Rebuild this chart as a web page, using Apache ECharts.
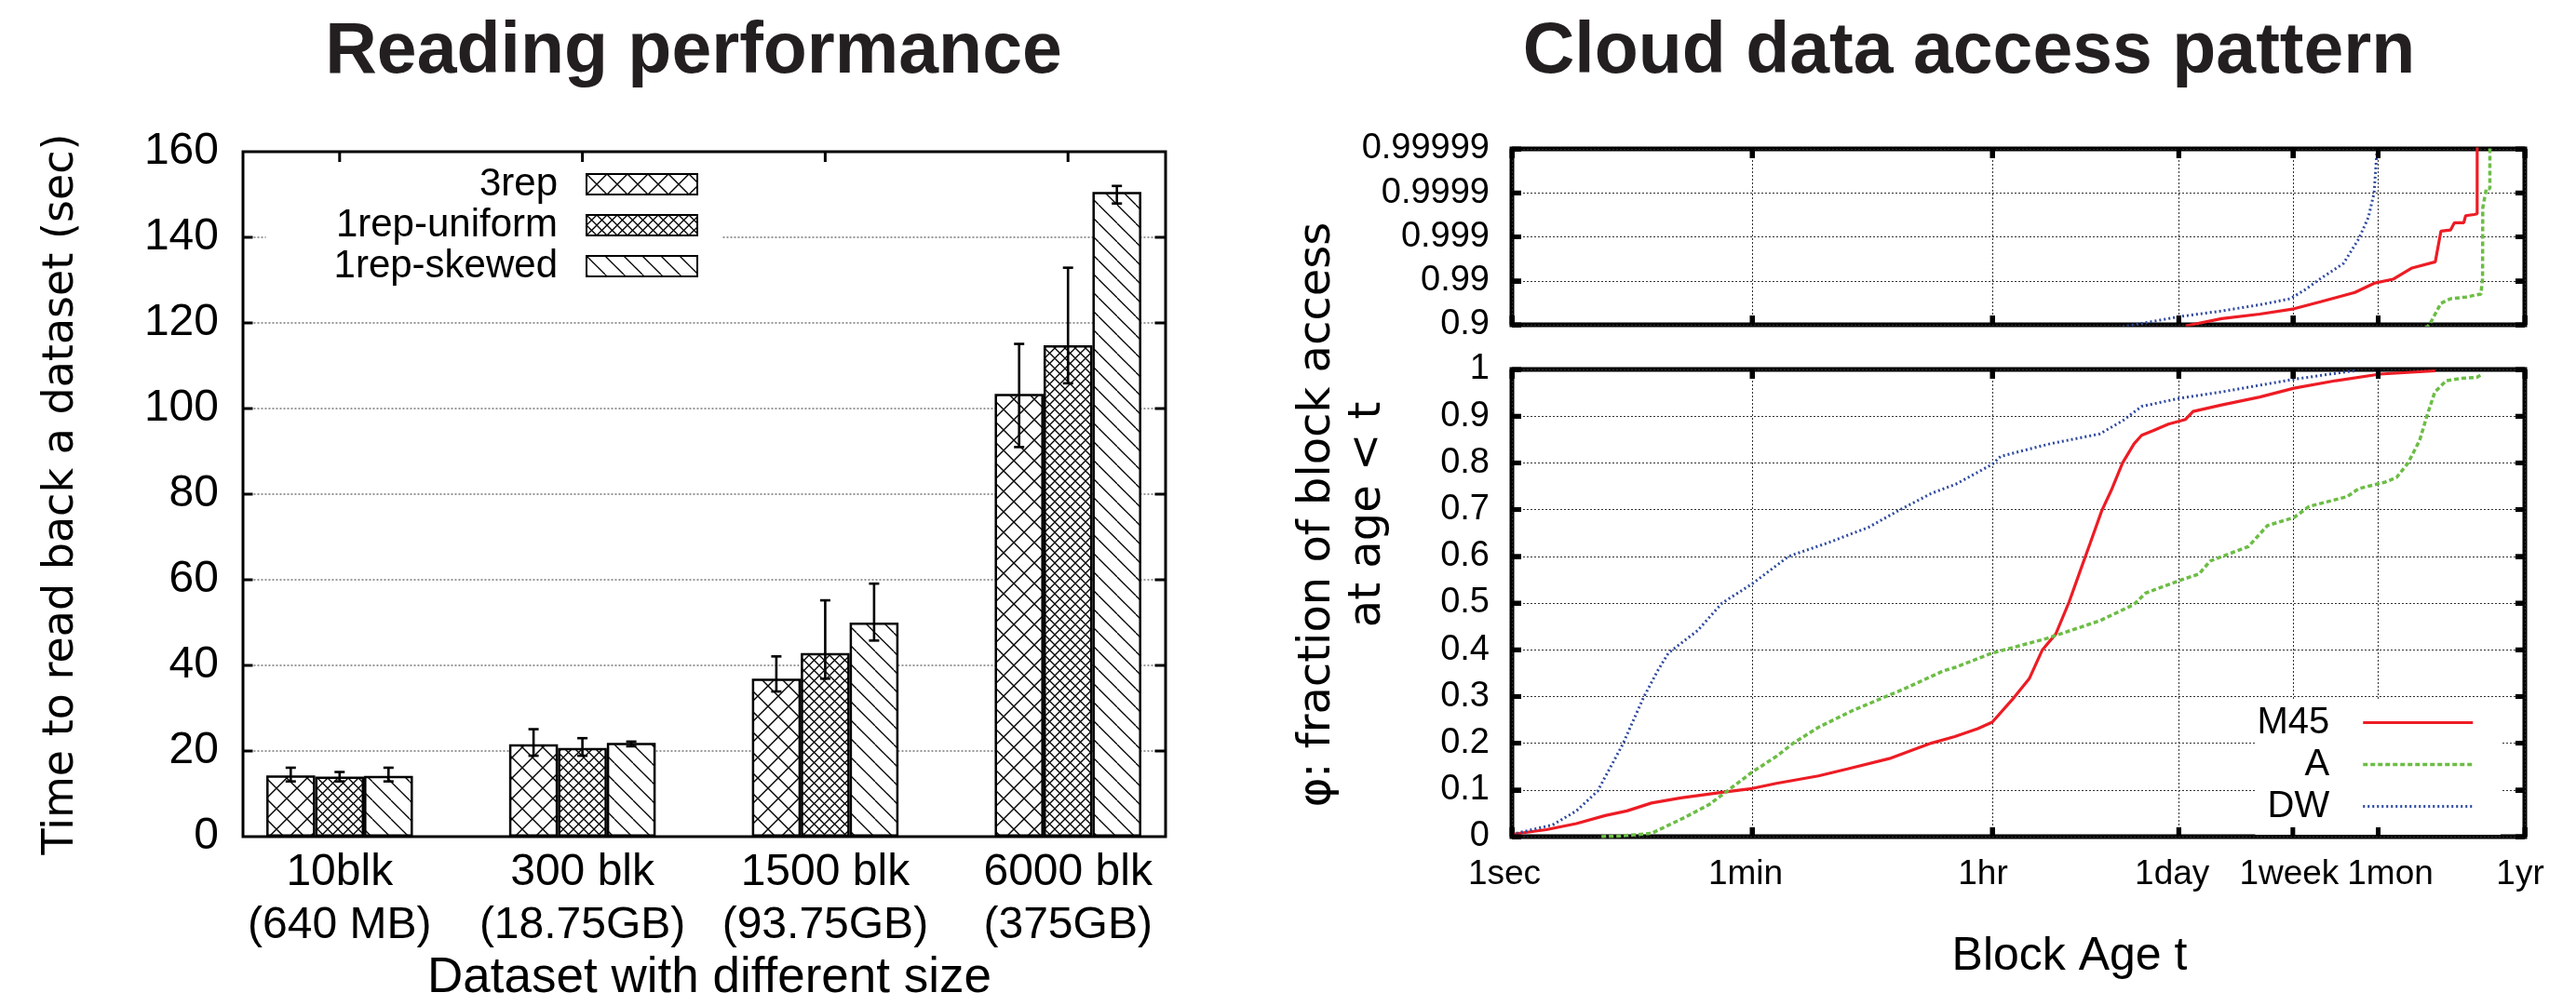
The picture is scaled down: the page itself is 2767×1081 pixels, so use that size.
<!DOCTYPE html>
<html><head><meta charset="utf-8">
<script src="https://cdn.jsdelivr.net/npm/echarts@6/dist/echarts.min.js"></script>
<style>html,body{margin:0;padding:0;background:#fff;overflow:hidden}
#left{position:absolute;left:0;top:0;width:1380px;height:1081px}
#right{position:absolute;left:1380px;top:0;width:1387px;height:1081px}</style>
</head><body><div id="left"></div><div id="right"></div>
<script>
// ---------------- Left chart: Reading performance ----------------
const categories = ['10blk', '300 blk', '1500 blk', '6000 blk'];
const sizes = ['(640 MB)', '(18.75GB)', '(93.75GB)', '(375GB)'];
const rep3   = [14.3, 21.6, 36.9, 103.4];
const rep3Lo = [12.9, 18.9, 33.9, 91.0];
const rep3Hi = [16.1, 25.1, 42.1, 115.1];
const uni    = [14.0, 20.7, 42.9, 114.8];
const uniLo  = [12.9, 18.9, 36.9, 105.9];
const uniHi  = [15.1, 23.0, 55.2, 132.9];
const skew   = [14.2, 21.9, 50.0, 150.6];
const skewLo = [12.9, 21.1, 45.8, 147.9];
const skewHi = [16.1, 22.2, 59.1, 152.0];
const yTicks = [0, 20, 40, 60, 80, 100, 120, 140, 160];

// ---------------- Right chart: Cloud data access pattern ----------------
const tickSec = [1, 60, 3600, 86400, 604800, 2592000, 31536000];
const tickLbl = ['1sec', '1min', '1hr', '1day', '1week', '1mon', '1yr'];
const tailTicks = ['0.9', '0.99', '0.999', '0.9999', '0.99999'];
const tailVals  = [0.1, 0.01, 0.001, 0.0001, 0.00001];   // 1 - phi at each tail tick
const phiTicks  = [0, 0.1, 0.2, 0.3, 0.4, 0.5, 0.6, 0.7, 0.8, 0.9, 1];

// [age in seconds, fraction phi] (lower, linear panel)
const m45 = [[1,.005],[1.8,.015],[3,.028],[4.9,.045],[7.1,.055],[10.8,.072],[17.8,.083],[36,.095],[60,.103],[91,.114],[186,.13],[305,.145],[622,.167],[1270,.2],[1900,.214],[2810,.231],[3600,.245],[5050,.293],[6760,.338],[8470,.4],[10640,.434],[13370,.503],[16260,.572],[19100,.628],[23230,.697],[27350,.741],[33190,.8],[40360,.841],[45920,.859],[55850,.869],[72440,.883],[97050,.893],[110400,.91],[179900,.924],[344400,.941],[616600,.96],[1259000,.976],[2667000,.99],[6855000,.997]];
const aSer = [[4.6,0],[6.1,.001],[10.8,.007],[19,.041],[29,.069],[39,.097],[60,.138],[91,.172],[121,.2],[186,.234],[328,.269],[622,.303],[771,.314],[1570,.355],[1900,.362],[3600,.393],[9060,.424],[22490,.462],[40360,.497],[48980,.521],[86900,.548],[121900,.562],[147900,.59],[283800,.621],[392600,.666],[616600,.683],[799800,.707],[1531000,.728],[1862000,.745],[2931000,.759],[3548000,.769],[4315000,.8],[5248000,.848],[5984000,.903],[6808000,.952],[8279000,.976],[10720000,.981],[13900000,.983],[15350000,.99]];
const dw = [[1,.005],[2,.025],[3,.055],[4.3,.097],[6.6,.197],[9.4,.297],[12,.355],[14.4,.393],[23.7,.441],[36,.5],[60,.541],[112,.6],[214,.628],[436,.662],[718,.697],[1260,.734],[1950,.755],[3600,.797],[4150,.814],[9660,.841],[22490,.862],[33190,.89],[45920,.921],[86900,.938],[179900,.952],[616600,.979],[1349000,.993],[1800000,.998]];

// [age in seconds, fraction phi] (upper, tail panel)
const m45Tail = [[97050,.893],[106900,.9],[179900,.9276],[344400,.943],[616600,.9567],[970000,.97],[1742000,.9816],[2410000,.9886],[3334000,.9908],[4613000,.9949],[6855000,.9963],[7551000,.99926],[8892000,.9993],[9484000,.99952],[11140000,.99952],[11510000,.99967],[13300000,.99969],[14000000,.9997],[14010000,.999995]];
const aTail = [[5248000,.848],[6209000,.9],[7551000,.9676],[8892000,.9745],[11510000,.9766],[14930000,.98],[15350000,.9911],[15400000,.99978],[16370000,.99992],[17380000,.99992],[17400000,.999995]];
const dwTail = [[33190,.89],[40360,.9],[88100,.935],[179900,.9516],[344400,.965],[579400,.9745],[751600,.9843],[970000,.9911],[1180000,.994],[1435000,.996],[1862000,.9989],[2193000,.99964],[2415000,.9999],[2582000,.999995]];

// ---------------- styles ----------------
const FONT = '"Liberation Sans", Arial, sans-serif';
const FONT_Y = '"DejaVu Sans", Verdana, sans-serif';
const RED = '#ed1c24', GREEN = '#6cbd45', BLUE = '#2e49a0';
const X_LABEL_SHIFT = [-8, -7, -10, -7, -4, 13, -5];   // horizontal nudge (px) of the age labels
const FRAME_INSET = 0.1;   // frame sits 0.1 category band inside the bar grid on each side

function pattern(size, dirs, lw) {
  const c = document.createElement('canvas');
  c.width = size; c.height = size;
  const g = c.getContext('2d');
  g.fillStyle = '#fff'; g.fillRect(0, 0, size, size);
  g.strokeStyle = '#000'; g.lineWidth = lw;
  dirs.forEach(d => {
    for (let k = -1; k <= 1; k++) {
      g.beginPath();
      if (d === '\\') { g.moveTo(k * size, 0); g.lineTo(k * size + size, size); }
      else { g.moveTo(k * size, size); g.lineTo(k * size + size, 0); }
      g.stroke();
    }
  });
  return { image: c, repeat: 'repeat' };
}
function nearestIdx(list, v) {
  let best = 0;
  list.forEach((s, i) => { if (Math.abs(Math.log(s) - Math.log(v)) < Math.abs(Math.log(list[best]) - Math.log(v))) best = i; });
  return best;
}
const dotted = () => ({ show: true, lineStyle: { type: [2, 2], color: '#333', width: 1 } });
const tickR = () => ({ show: true, inside: true, length: 10, lineStyle: { color: '#000', width: 5 } });
const noLine = () => ({ show: false, onZero: false });

// custom series drawing tick marks on one edge of a cartesian grid, placed by the axis scales
function edgeTicks(xi, yi, vals, side, ref, len, w, z) {
  const vertical = side === 'left' || side === 'right';
  return {
    type: 'custom', name: 'ticks-' + side, xAxisIndex: xi, yAxisIndex: yi, silent: true, z: z,
    data: vals.map(v => vertical ? [ref, v] : [v, ref]),
    renderItem: (params, api) => {
      const r = params.coordSys;
      const p = api.coord([api.value(0), api.value(1)]);
      let shape;
      if (side === 'left') shape = { x1: r.x, y1: p[1], x2: r.x + len, y2: p[1] };
      else if (side === 'right') shape = { x1: r.x + r.width - len, y1: p[1], x2: r.x + r.width, y2: p[1] };
      else if (side === 'top') shape = { x1: p[0], y1: r.y, x2: p[0], y2: r.y + len };
      else shape = { x1: p[0], y1: r.y + r.height - len, x2: p[0], y2: r.y + r.height };
      return { type: 'line', shape: shape, style: { stroke: '#000', lineWidth: w } };
    }
  };
}

// ================= LEFT INSTANCE =================
const BAR_W = 52.5, CAP = 5.5;
const barDefs = [
  { name: '3rep', vals: rep3, lo: rep3Lo, hi: rep3Hi, color: pattern(22, ['\\', '/'], 1.4) },
  { name: '1rep-uniform', vals: uni, lo: uniLo, hi: uniHi, color: pattern(11, ['\\', '/'], 1.3) },
  { name: '1rep-skewed', vals: skew, lo: skewLo, hi: skewHi, color: pattern(20, ['\\'], 1.3) }
];
const leftSeries = [];
// gridlines and frame ticks (drawn from the value axis of the bar grid)
['grid', 'tickL', 'tickR'].forEach(part => {
  leftSeries.push({
    type: 'custom', name: 'frame-' + part, xAxisIndex: 0, yAxisIndex: 0, silent: true,
    z: part === 'grid' ? 1 : 6,
    data: yTicks.slice(1, -1).map(v => [0, v]),
    renderItem: (params, api) => {
      const r = params.coordSys;
      const inset = api.size([1, 0])[0] * FRAME_INSET;
      const xL = r.x + inset, xR = r.x + r.width - inset;
      const y = api.coord([0, api.value(1)])[1];
      if (part === 'grid') return { type: 'line', shape: { x1: xL, y1: y, x2: xR, y2: y }, style: { stroke: '#333', lineWidth: 1, lineDash: [2, 2] } };
      if (part === 'tickL') return { type: 'line', shape: { x1: xL, y1: y, x2: xL + 11, y2: y }, style: { stroke: '#000', lineWidth: 3 } };
      return { type: 'line', shape: { x1: xR - 11, y1: y, x2: xR, y2: y }, style: { stroke: '#000', lineWidth: 3 } };
    }
  });
});
leftSeries.push({
  type: 'custom', name: 'frame-tickTop', xAxisIndex: 0, yAxisIndex: 0, silent: true, z: 6,
  data: categories.map((c, i) => [i, yTicks[yTicks.length - 1]]),
  renderItem: (params, api) => {
    const p = api.coord([api.value(0), api.value(1)]);
    return { type: 'line', shape: { x1: p[0], y1: p[1], x2: p[0], y2: p[1] + 11 }, style: { stroke: '#000', lineWidth: 3 } };
  }
});
barDefs.forEach(d => {
  leftSeries.push({
    type: 'bar', name: d.name, xAxisIndex: 0, yAxisIndex: 0, data: d.vals,
    barWidth: BAR_W, barGap: '0%',
    itemStyle: { color: d.color, borderColor: '#000', borderWidth: 2.5 }, z: 3
  });
});
// error bars: one single-line custom series per part (stem / upper cap / lower cap)
barDefs.forEach((d, k) => {
  const off = (k - 1) * BAR_W;
  ['stem', 'top', 'bot'].forEach(part => {
    leftSeries.push({
      type: 'custom', name: 'err-' + part + '-' + d.name, xAxisIndex: 0, yAxisIndex: 0,
      data: d.lo.map((lo, i) => [i, lo, d.hi[i]]),
      encode: { x: 0, y: [1, 2] }, z: 5,
      renderItem: (params, api) => {
        const x = api.value(0);
        const t = api.coord([x, api.value(2)]);
        const b = api.coord([x, api.value(1)]);
        const cx = t[0] + off;
        let shape;
        if (part === 'stem') shape = { x1: cx, y1: t[1], x2: cx, y2: b[1] };
        else if (part === 'top') shape = { x1: cx - CAP, y1: t[1], x2: cx + CAP, y2: t[1] };
        else shape = { x1: cx - CAP, y1: b[1], x2: cx + CAP, y2: b[1] };
        return { type: 'line', shape: shape, style: { stroke: '#000', lineWidth: 2.6 } };
      }
    });
  });
});
const leftOption = {
  animation: false,
  backgroundColor: '#fff',
  textStyle: { fontFamily: FONT },
  grid: [
    { left: 234.4, top: 163, width: 1043.2, height: 736, show: false, outerBoundsMode: 'none' },
    { left: 261, top: 163, width: 991, height: 736, show: true, borderColor: '#000', borderWidth: 3, backgroundColor: 'transparent', outerBoundsMode: 'none' }
  ],
  xAxis: [
    { type: 'category', data: categories, gridIndex: 0, position: 'bottom',
      axisLine: noLine(), axisTick: { show: false },
      axisLabel: { interval: 0, fontSize: 48, color: '#000', margin: 10, lineHeight: 57,
        formatter: (v, i) => v + '\n' + sizes[i] } },
    { type: 'category', data: categories, gridIndex: 1, show: false, axisLine: noLine() }
  ],
  yAxis: [
    { type: 'value', min: yTicks[0], max: yTicks[yTicks.length - 1], interval: 20, gridIndex: 0, show: false, axisLine: noLine() },
    { type: 'value', min: yTicks[0], max: yTicks[yTicks.length - 1], interval: 20, gridIndex: 1, position: 'left',
      axisLine: noLine(), axisTick: { show: false },
      axisLabel: { fontSize: 48, color: '#000', margin: 26 }, splitLine: { show: false } }
  ],
  legend: [
    { data: barDefs.map(d => d.name), orient: 'vertical', align: 'right', right: 605, top: 166,
      itemWidth: 119, itemHeight: 22, itemGap: 0, icon: 'rect',
      backgroundColor: '#fff', padding: [10, 25, 10, 73],
      textStyle: { fontSize: 42, lineHeight: 44, color: '#000', padding: [0, 26, 0, 0] } }
  ],
  graphic: [
    { type: 'text', x: 745, y: 57, style: { text: 'Reading performance', font: 'bold 77px ' + FONT, fill: '#231f20', textAlign: 'center', textVerticalAlign: 'middle' } },
    { type: 'text', x: 762, y: 1051, style: { text: 'Dataset with different size', font: '53px ' + FONT, fill: '#000', textAlign: 'center', textVerticalAlign: 'middle' } },
    { type: 'text', x: 66, y: 531, rotation: Math.PI / 2, style: { text: 'Time to read back a dataset (sec)', font: '46px ' + FONT_Y, fill: '#000', textAlign: 'center', textVerticalAlign: 'middle' } }
  ],
  series: leftSeries
};

// ================= RIGHT INSTANCE (container starts at x = 1380) =================
const lineDefs = [
  { name: 'M45', low: m45, tail: m45Tail, color: RED, width: 3.2, type: 'solid' },
  { name: 'A', low: aSer, tail: aTail, color: GREEN, width: 3.5, type: [5, 3] },
  { name: 'DW', low: dw, tail: dwTail, color: BLUE, width: 3, type: [2, 3] }
];
const rightSeries = [];
lineDefs.forEach(d => {
  rightSeries.push({
    type: 'line', name: d.name, xAxisIndex: 2, yAxisIndex: 2, data: d.low,
    symbol: 'none', smooth: false, z: 3,
    lineStyle: { color: d.color, width: d.width, type: d.type }, itemStyle: { color: d.color }
  });
  rightSeries.push({
    type: 'line', name: d.name, xAxisIndex: 0, yAxisIndex: 0,
    data: d.tail.map(([t, p]) => [t, 1 - p]),
    symbol: 'none', smooth: false, z: 3,
    lineStyle: { color: d.color, width: d.width, type: d.type }, itemStyle: { color: d.color }
  });
});
// frame tick marks for both panels
rightSeries.push(edgeTicks(0, 0, tailVals, 'left', 1, 10, 5, 4));
rightSeries.push(edgeTicks(0, 0, tailVals, 'right', 1, 10, 5, 4));
rightSeries.push(edgeTicks(0, 0, tickSec, 'top', 0.1, 10, 5, 4));
rightSeries.push(edgeTicks(0, 0, tickSec, 'bottom', 0.1, 10, 5, 4));
rightSeries.push(edgeTicks(2, 2, phiTicks, 'left', 1, 10, 5, 4));
rightSeries.push(edgeTicks(2, 2, phiTicks, 'right', 1, 10, 5, 4));
rightSeries.push(edgeTicks(2, 2, tickSec, 'top', 0, 10, 5, 4));
rightSeries.push(edgeTicks(2, 2, tickSec, 'bottom', 0, 10, 5, 4));

const xRich = {};
X_LABEL_SHIFT.forEach((s, i) => {
  xRich['l' + i] = { fontSize: 37, fontFamily: FONT, color: '#000', padding: s > 0 ? [0, 0, 0, 2 * s] : [0, -2 * s, 0, 0] };
});
const logX = (gi, pos, labels, split) => ({
  type: 'log', logBase: 10, min: tickSec[0], max: tickSec[tickSec.length - 1], gridIndex: gi, position: pos,
  axisLine: noLine(),
  axisTick: Object.assign({ customValues: tickSec }, tickR()),
  axisLabel: labels ? {
    show: true, customValues: tickSec, fontSize: 37, fontFamily: FONT, color: '#000', margin: 22,
    formatter: v => { const i = nearestIdx(tickSec, v); return '{l' + i + '|' + tickLbl[i] + '}'; },
    rich: xRich
  } : { show: false },
  splitLine: split ? dotted() : { show: false }
});
const rightOption = {
  animation: false,
  backgroundColor: '#fff',
  textStyle: { fontFamily: FONT },
  grid: [
    { left: 244, top: 160, width: 1088, height: 189, show: true, borderColor: '#000', borderWidth: 5, backgroundColor: 'transparent', outerBoundsMode: 'none' },
    { left: 244, top: 397, width: 1088, height: 502, show: true, borderColor: '#000', borderWidth: 5, backgroundColor: 'transparent', outerBoundsMode: 'none' }
  ],
  xAxis: [
    logX(0, 'bottom', false, true),
    logX(0, 'top', false, false),
    logX(1, 'bottom', true, true),
    logX(1, 'top', false, false)
  ],
  yAxis: [
    { type: 'log', logBase: 10, min: 0.00001, max: 0.1, inverse: true, gridIndex: 0, position: 'left',
      axisLine: noLine(), axisTick: Object.assign({ customValues: tailVals }, tickR()),
      axisLabel: { customValues: tailVals, fontSize: 38, fontFamily: FONT, color: '#000', margin: 24,
        formatter: v => tailTicks[nearestIdx(tailVals, v)] },
      splitLine: dotted() },
    { type: 'log', logBase: 10, min: 0.00001, max: 0.1, inverse: true, gridIndex: 0, position: 'right',
      axisLine: noLine(), axisTick: Object.assign({ customValues: tailVals }, tickR()),
      axisLabel: { show: false }, splitLine: { show: false } },
    { type: 'value', min: 0, max: 1, interval: 0.1, gridIndex: 1, position: 'left',
      axisLine: noLine(), axisTick: tickR(),
      axisLabel: { fontSize: 38, fontFamily: FONT, color: '#000', margin: 24 }, splitLine: dotted() },
    { type: 'value', min: 0, max: 1, interval: 0.1, gridIndex: 1, position: 'right',
      axisLine: noLine(), axisTick: tickR(), axisLabel: { show: false }, splitLine: { show: false } }
  ],
  legend: [
    { data: lineDefs.map(d => ({ name: d.name, lineStyle: { color: d.color, width: d.width, type: d.type } })),
      orient: 'vertical', align: 'right', right: 81, top: 752,
      itemWidth: 118, itemHeight: 12, itemGap: 0,
      backgroundColor: '#fff', padding: [2, 28, 8, 2],
      itemStyle: { opacity: 0 },
      textStyle: { fontSize: 40, lineHeight: 45, color: '#000', fontFamily: FONT, padding: [0, 31, 0, 0] } }
  ],
  graphic: [
    { type: 'text', x: 735, y: 57, style: { text: 'Cloud data access pattern', font: 'bold 77px ' + FONT, fill: '#231f20', textAlign: 'center', textVerticalAlign: 'middle' } },
    { type: 'text', x: 843, y: 1028, style: { text: 'Block Age t', font: '50px ' + FONT, fill: '#000', textAlign: 'center', textVerticalAlign: 'middle' } },
    { type: 'text', x: 63, y: 553, rotation: Math.PI / 2, style: { text: 'φ: fraction of block access\nat age < t', font: '48px ' + FONT_Y, lineHeight: 54, fill: '#000', textAlign: 'center', textVerticalAlign: 'middle' } }
  ],
  series: rightSeries
};

const leftChart = echarts.init(document.getElementById('left'), null, { renderer: 'canvas', width: 1380, height: 1081 });
leftChart.setOption(leftOption);
const rightChart = echarts.init(document.getElementById('right'), null, { renderer: 'canvas', width: 1387, height: 1081 });
rightChart.setOption(rightOption);
</script></body></html>
